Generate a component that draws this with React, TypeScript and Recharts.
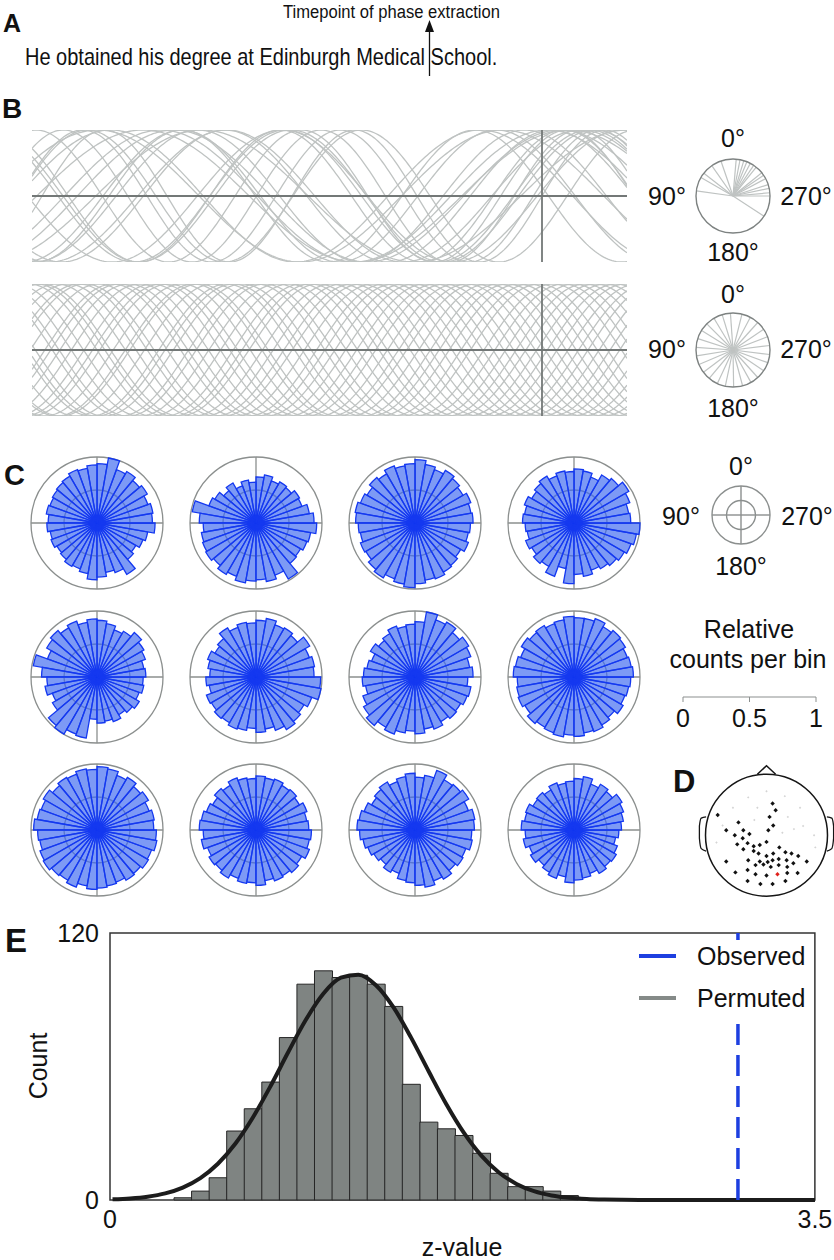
import {
  LineChart,
  Line,
  XAxis,
  YAxis,
  ReferenceLine,
  ReferenceDot,
  ReferenceArea,
  RadialBarChart,
  RadialBar,
  PolarGrid,
  PolarAngleAxis,
  PolarRadiusAxis,
  ComposedChart,
  Scatter,
  Bar,
  Legend,
  Label,
} from "recharts";

const FONT = '"Liberation Sans", Arial, Helvetica, sans-serif';
const WAVE_GREY = "#bfc3c2";
const AXIS_GREY = "#737877";
const RING_GREY = "#8b8f8e";

// ---- B: single trials, phase (deg, 0 = peak) at the extraction timepoint
const TIME_RANGE = [-0.6, 0.1];
const TIME_STEP = 0.0025;
const TOP_PHASES = [349, 343, 332, 321, 309, 298, 288, 275, 270, 60, 82, 52, 35, 237, 19, 355, 326, 304, 338, 282];
const TOP_FREQS = [2.6, 2.2, 3.0, 2.4, 3.3, 2.8, 2.0, 2.5, 3.4, 2.3, 2.9, 2.7, 2.1, 3.1, 2.6, 2.2, 3.2, 2.8, 2.0, 3.3];
const BOTTOM_PHASES = [4, 17, 31, 45, 58, 72, 86, 99, 113, 127, 140, 155, 168, 181, 195, 209, 222, 236, 250, 263, 277, 291, 304, 318, 332, 346];
const BOTTOM_FREQS = [3.1, 3.12, 3.08, 3.1, 3.13, 3.1, 3.07, 3.11, 3.1, 3.08, 3.1, 3.12, 3.1, 3.09, 3.1, 3.13, 3.1, 3.08, 3.11, 3.1, 3.1, 3.07, 3.1, 3.12, 3.1, 3.09];

// ---- C: relative counts per 10 deg phase bin, bins run counter-clockwise from 0 deg (top)
const PHASE_BINS = [0, 10, 20, 30, 40, 50, 60, 70, 80, 90, 100, 110, 120, 130, 140, 150, 160, 170,
  180, 190, 200, 210, 220, 230, 240, 250, 260, 270, 280, 290, 300, 310, 320, 330, 340, 350];
const ROSE_1 = [0.90, 0.88, 0.84, 0.86, 0.82, 0.80, 0.78, 0.76, 0.78, 0.74, 0.76, 0.72, 0.74, 0.70, 0.72, 0.76, 0.74, 0.78, 0.86, 0.82, 0.76, 0.80, 0.90, 0.72, 0.68, 0.74, 0.78, 0.88, 0.84, 0.86, 0.82, 0.88, 0.84, 0.90, 0.86, 1.00];
const ROSE_2 = [0.70, 0.62, 0.66, 0.60, 0.70, 0.64, 0.72, 0.76, 0.98, 0.86, 0.80, 0.84, 0.86, 0.88, 0.84, 0.90, 0.86, 0.92, 0.88, 0.86, 0.90, 0.84, 0.98, 0.80, 0.78, 0.82, 0.84, 0.92, 0.88, 0.82, 0.74, 0.76, 0.70, 0.72, 0.68, 0.74];
const ROSE_3 = [0.96, 0.90, 0.88, 0.92, 0.86, 0.90, 0.84, 0.88, 0.92, 0.90, 0.86, 0.84, 0.88, 0.86, 0.92, 0.96, 0.90, 0.94, 0.98, 0.92, 0.88, 0.90, 0.86, 0.84, 0.80, 0.86, 0.82, 0.84, 0.88, 0.86, 0.90, 0.84, 0.88, 0.92, 0.86, 0.90];
const ROSE_4 = [0.82, 0.78, 0.80, 0.76, 0.82, 0.78, 0.74, 0.80, 0.76, 0.78, 0.74, 0.72, 0.78, 0.74, 0.80, 0.76, 0.86, 0.70, 0.92, 0.78, 0.82, 0.76, 0.80, 0.84, 0.88, 0.92, 0.96, 1.00, 0.86, 0.84, 0.90, 0.96, 0.88, 0.84, 0.74, 0.80];
const ROSE_5 = [0.86, 0.88, 0.84, 0.90, 0.86, 0.92, 0.88, 0.80, 0.98, 0.84, 0.76, 0.80, 0.72, 0.78, 0.96, 1.00, 0.92, 0.94, 0.64, 0.70, 0.68, 0.72, 0.66, 0.70, 0.74, 0.68, 0.72, 0.70, 0.74, 0.72, 0.78, 0.82, 0.88, 0.80, 0.76, 0.82];
const ROSE_6 = [0.86, 0.82, 0.84, 0.80, 0.86, 0.76, 0.72, 0.78, 0.74, 0.70, 0.76, 0.72, 0.80, 0.78, 0.82, 0.80, 0.84, 0.82, 0.78, 0.84, 0.80, 0.86, 0.92, 0.88, 0.84, 0.90, 1.00, 0.98, 0.88, 0.90, 0.86, 0.94, 0.82, 0.86, 0.84, 0.90];
const ROSE_7 = [0.84, 0.80, 0.78, 0.82, 0.76, 0.72, 0.78, 0.70, 0.74, 0.78, 0.80, 0.76, 0.84, 0.90, 0.96, 0.88, 0.92, 0.86, 0.82, 0.86, 0.80, 0.84, 0.78, 0.82, 0.80, 0.84, 0.86, 0.80, 0.88, 0.84, 0.90, 0.94, 0.88, 0.96, 0.92, 1.00];
const ROSE_8 = [0.90, 0.92, 0.88, 0.86, 0.90, 0.88, 0.92, 0.86, 0.90, 0.92, 0.86, 0.88, 0.90, 0.86, 0.92, 0.88, 0.90, 0.92, 0.88, 0.90, 0.86, 0.88, 0.84, 0.80, 0.86, 0.82, 0.84, 0.86, 0.90, 0.88, 0.86, 0.90, 0.92, 0.88, 0.94, 0.90];
const ROSE_9 = [0.96, 0.92, 0.94, 0.90, 0.92, 0.88, 0.94, 0.90, 0.92, 0.96, 0.90, 0.88, 0.92, 0.94, 0.90, 0.88, 0.92, 0.86, 0.90, 0.88, 0.86, 0.84, 0.88, 0.86, 0.90, 0.88, 0.92, 0.90, 0.86, 0.88, 0.84, 0.90, 0.86, 0.92, 0.88, 0.94];
const ROSE_10 = [0.82, 0.78, 0.80, 0.84, 0.78, 0.82, 0.76, 0.80, 0.84, 0.86, 0.80, 0.84, 0.78, 0.82, 0.80, 0.84, 0.78, 0.82, 0.80, 0.84, 0.78, 0.82, 0.80, 0.84, 0.80, 0.86, 0.82, 0.84, 0.80, 0.78, 0.82, 0.76, 0.80, 0.78, 0.82, 0.80];
const ROSE_11 = [0.80, 0.86, 0.82, 0.78, 0.84, 0.80, 0.76, 0.82, 0.86, 0.88, 0.84, 0.80, 0.76, 0.72, 0.68, 0.74, 0.70, 0.78, 0.80, 0.84, 0.88, 0.82, 0.86, 0.80, 0.84, 0.82, 0.88, 0.86, 0.90, 0.92, 0.86, 0.94, 0.90, 0.88, 0.96, 0.84];
const ROSE_12 = [0.78, 0.74, 0.72, 0.76, 0.70, 0.74, 0.72, 0.78, 0.76, 0.80, 0.74, 0.78, 0.72, 0.76, 0.70, 0.74, 0.78, 0.72, 0.80, 0.76, 0.74, 0.70, 0.76, 0.72, 0.74, 0.70, 0.64, 0.68, 0.72, 0.76, 0.80, 0.84, 0.76, 0.80, 0.74, 0.82];
const ROSES = [ROSE_1, ROSE_2, ROSE_3, ROSE_4, ROSE_5, ROSE_6, ROSE_7, ROSE_8, ROSE_9, ROSE_10, ROSE_11, ROSE_12];
const SCALE_TICKS = [0, 0.5, 1];

// ---- D: electrode positions (head radius = 1, nose up)
const SIG_ELECTRODES = [
  { x: -0.46, y: 0.21 }, { x: 0.11, y: 0.16 }, { x: -0.66, y: 0.08 }, { x: -0.38, y: 0.08 }, { x: 0.03, y: 0.08 },
  { x: -0.52, y: 0.0 }, { x: -0.28, y: 0.02 }, { x: -0.39, y: -0.05 }, { x: -0.48, y: -0.15 }, { x: -0.31, y: -0.13 },
  { x: -0.21, y: -0.18 }, { x: -0.11, y: -0.16 }, { x: 0.0, y: -0.11 }, { x: -0.38, y: -0.23 }, { x: -0.21, y: -0.26 },
  { x: -0.13, y: -0.3 }, { x: 0.0, y: -0.34 }, { x: 0.11, y: -0.3 }, { x: 0.21, y: -0.2 }, { x: 0.31, y: -0.28 },
  { x: 0.41, y: -0.3 }, { x: 0.52, y: -0.34 }, { x: -0.3, y: -0.41 }, { x: -0.11, y: -0.43 }, { x: 0.02, y: -0.44 },
  { x: 0.1, y: -0.41 }, { x: 0.2, y: -0.39 }, { x: 0.33, y: -0.41 }, { x: 0.66, y: -0.43 }, { x: -0.66, y: -0.43 },
  { x: -0.18, y: -0.49 }, { x: -0.05, y: -0.48 }, { x: 0.07, y: -0.52 }, { x: 0.2, y: -0.49 }, { x: 0.34, y: -0.52 },
  { x: 0.44, y: -0.46 }, { x: -0.51, y: -0.61 }, { x: -0.31, y: -0.57 }, { x: -0.18, y: -0.64 }, { x: 0.0, y: -0.66 },
  { x: 0.34, y: -0.62 }, { x: 0.51, y: -0.62 }, { x: -0.31, y: -0.75 }, { x: -0.1, y: -0.8 }, { x: 0.1, y: -0.8 },
  { x: 0.31, y: -0.75 }, { x: 0.1, y: 0.52 }, { x: 0.15, y: 0.41 }, { x: 0.05, y: 0.3 }, { x: -0.8, y: 0.33 },
];
const PEAK_ELECTRODE = [{ x: 0.18, y: -0.64 }];
const FAINT_ELECTRODES = [
  { x: -0.3, y: 0.62 }, { x: 0.0, y: 0.72 }, { x: 0.3, y: 0.64 }, { x: -0.55, y: 0.45 }, { x: 0.55, y: 0.45 },
  { x: -0.15, y: 0.45 }, { x: 0.35, y: 0.3 }, { x: 0.6, y: 0.15 }, { x: 0.78, y: 0.0 }, { x: 0.8, y: -0.2 },
  { x: -0.82, y: -0.12 }, { x: -0.72, y: 0.16 }, { x: 0.45, y: 0.1 }, { x: 0.26, y: 0.04 }, { x: -0.2, y: 0.25 },
];
const NOSE = [{ x: -0.15, y: 1.0 }, { x: 0, y: 1.14 }, { x: 0.15, y: 1.0 }];
const LEFT_EAR = [{ x: -0.99, y: 0.3 }, { x: -1.07, y: 0.28 }, { x: -1.1, y: 0.15 }, { x: -1.1, y: -0.05 }, { x: -1.07, y: -0.22 }, { x: -0.99, y: -0.26 }];
const RIGHT_EAR = [{ x: 0.99, y: 0.3 }, { x: 1.07, y: 0.28 }, { x: 1.1, y: 0.15 }, { x: 1.1, y: -0.05 }, { x: 1.07, y: -0.22 }, { x: 0.99, y: -0.26 }];

// ---- E: permutation distribution of z-values
const BIN_START = -0.031;
const BIN_WIDTH = 0.0872;
const PERM_COUNTS = [0, 0, 0, 0, 1, 4, 10, 31, 41, 53, 73, 97, 103, 100, 101, 97, 87, 52, 35, 32, 29, 21, 12, 6, 6, 4, 2, 0, 0, 0, 0, 0, 0, 0, 0, 0, 0, 0, 0, 0, 0];
const FIT_MEAN = 1.209;
const FIT_SD = 0.352;
const FIT_PEAK = 101.5;
const OBSERVED_Z = 3.118;

function buildWaves(freqs: number[], phases: number[]) {
  const n = Math.round((TIME_RANGE[1] - TIME_RANGE[0]) / TIME_STEP);
  const rows: Record<string, number>[] = [];
  for (let i = 0; i <= n; i++) {
    const t = TIME_RANGE[0] + i * TIME_STEP;
    const row: Record<string, number> = { t };
    freqs.forEach((f, k) => {
      row["c" + k] = Math.cos(2 * Math.PI * f * t + (phases[k] * Math.PI) / 180);
    });
    rows.push(row);
  }
  return rows;
}

function WavePanel({ top, freqs, phases }: { top: number; freqs: number[]; phases: number[] }) {
  const rows = buildWaves(freqs, phases);
  return (
    <div style={{ position: "absolute", left: 32, top }}>
      <LineChart width={595} height={132} data={rows} margin={{ top: 0, right: 0, bottom: 0, left: 0 }}>
        <XAxis dataKey="t" type="number" domain={TIME_RANGE} hide />
        <YAxis type="number" domain={[-1, 1]} hide />
        {freqs.map((_, k) => (
          <Line key={k} dataKey={"c" + k} stroke={WAVE_GREY} strokeWidth={1.3} dot={false} isAnimationActive={false} />
        ))}
        <ReferenceLine y={0} stroke={AXIS_GREY} strokeWidth={1.8} />
        <ReferenceLine x={0} stroke={AXIS_GREY} strokeWidth={1.8} />
      </LineChart>
    </div>
  );
}

function PhaseDial({ cx, cy, phases }: { cx: number; cy: number; phases: number[] }) {
  return (
    <div style={{ position: "absolute", left: cx - 40, top: cy - 40 }}>
      <LineChart width={80} height={80} margin={{ top: 3, right: 3, bottom: 3, left: 3 }}>
        <XAxis dataKey="x" type="number" domain={[-1, 1]} hide />
        <YAxis dataKey="y" type="number" domain={[-1, 1]} hide />
        {phases.map((p, k) => {
          const a = (p * Math.PI) / 180;
          return (
            <Line
              key={k}
              data={[{ x: 0, y: 0 }, { x: -Math.sin(a), y: Math.cos(a) }]}
              dataKey="y"
              stroke={WAVE_GREY}
              strokeWidth={1.2}
              dot={false}
              isAnimationActive={false}
            />
          );
        })}
        <ReferenceDot x={0} y={0} r={37} fill="none" stroke="#7d8281" strokeWidth={1.4} />
      </LineChart>
    </div>
  );
}

function Rose({ values, cx, cy }: { values: number[]; cx: number; cy: number }) {
  const rows = values.map((v, i) => ({ bin: PHASE_BINS[i], v }));
  return (
    <div style={{ position: "absolute", left: cx - 70, top: cy - 70 }}>
      <RadialBarChart
        width={140}
        height={140}
        data={rows}
        layout="centric"
        cx={70}
        cy={70}
        innerRadius={0}
        outerRadius={66}
        startAngle={90}
        endAngle={450}
        barCategoryGap={0}
        barGap={0}
        margin={{ top: 0, right: 0, bottom: 0, left: 0 }}
      >
        <PolarGrid gridType="circle" polarAngles={[0, 90, 180, 270]} polarRadius={[33, 66]} stroke={RING_GREY} strokeWidth={1.3} />
        <PolarAngleAxis type="category" dataKey="bin" tick={false} tickLine={false} axisLine={false} />
        <PolarRadiusAxis type="number" domain={[0, 1]} tick={false} axisLine={false} />
        <RadialBar dataKey="v" fill="#3f6af0" fillOpacity={0.68} stroke="#1438f0" strokeWidth={1.3} isAnimationActive={false} />
      </RadialBarChart>
    </div>
  );
}

function LegendDial() {
  return (
    <div style={{ position: "absolute", left: 741 - 35, top: 515 - 35 }}>
      <RadialBarChart width={70} height={70} data={[{ bin: 0, v: 0 }]} layout="centric" cx={35} cy={35} innerRadius={0} outerRadius={29} startAngle={90} endAngle={450} margin={{ top: 0, right: 0, bottom: 0, left: 0 }}>
        <PolarGrid gridType="circle" polarAngles={[0, 90, 180, 270]} polarRadius={[14.5, 29]} stroke={RING_GREY} strokeWidth={1.4} />
        <PolarAngleAxis type="category" dataKey="bin" tick={false} tickLine={false} axisLine={false} />
        <PolarRadiusAxis type="number" domain={[0, 1]} tick={false} axisLine={false} />
      </RadialBarChart>
    </div>
  );
}

function ScaleBar() {
  return (
    <div style={{ position: "absolute", left: 663, top: 690 }}>
      <LineChart width={173} height={45} margin={{ top: 0, right: 20, bottom: 0, left: 20 }}>
        <XAxis
          dataKey="x"
          type="number"
          domain={[0, 1]}
          ticks={SCALE_TICKS}
          height={38}
          stroke={RING_GREY}
          tickSize={5}
          tick={(p: any) => (
            <text x={p.x} y={37} textAnchor="middle" fontSize={25} fontFamily={FONT} fill="#111">
              {p.payload.value}
            </text>
          )}
        />
        <YAxis type="number" domain={[0, 1]} hide />
        <Line data={[{ x: 0, y: 0 }, { x: 1, y: 0 }]} dataKey="y" stroke="none" dot={false} isAnimationActive={false} />
      </LineChart>
    </div>
  );
}

const diamond = (fill: string, s: number) => (p: any) => (
  <polygon points={`${p.cx},${p.cy - s} ${p.cx + s},${p.cy} ${p.cx},${p.cy + s} ${p.cx - s},${p.cy}`} fill={fill} />
);

function Head() {
  const R = 61;
  const w = 141;
  const h = 144;
  const top = 1.2;
  return (
    <div style={{ position: "absolute", left: 766 - w / 2, top: 835 - top * R }}>
      <ComposedChart width={w} height={h} margin={{ top: 0, right: 0, bottom: 0, left: 0 }}>
        <XAxis dataKey="x" type="number" domain={[-w / 2 / R, w / 2 / R]} hide />
        <YAxis dataKey="y" type="number" domain={[top - h / R, top]} hide />
        <ReferenceDot x={0} y={0} r={R} fill="none" stroke="#151515" strokeWidth={1.5} />
        <Line data={NOSE} dataKey="y" stroke="#151515" strokeWidth={1.5} dot={false} isAnimationActive={false} />
        <Line data={LEFT_EAR} dataKey="y" type="monotone" stroke="#151515" strokeWidth={1.3} dot={false} isAnimationActive={false} />
        <Line data={RIGHT_EAR} dataKey="y" type="monotone" stroke="#151515" strokeWidth={1.3} dot={false} isAnimationActive={false} />
        <Scatter data={FAINT_ELECTRODES} shape={diamond("#d4d4d4", 1.2)} isAnimationActive={false} />
        <Scatter data={SIG_ELECTRODES} shape={diamond("#111", 2.2)} isAnimationActive={false} />
        <Scatter data={PEAK_ELECTRODE} shape={diamond("#e0201b", 2.2)} isAnimationActive={false} />
      </ComposedChart>
    </div>
  );
}

function PermutationHistogram() {
  const rows = PERM_COUNTS.map((c, k) => {
    const z = BIN_START + (k + 0.5) * BIN_WIDTH;
    return {
      z,
      count: c > 0 ? c : null,
      fit: FIT_PEAK * Math.exp(-((z - FIT_MEAN) ** 2) / (2 * FIT_SD * FIT_SD)),
    };
  });
  return (
    <div style={{ position: "absolute", left: 0, top: 900 }}>
      <ComposedChart width={834} height={360} data={rows} margin={{ top: 33, right: 19, bottom: 0, left: 0 }} barCategoryGap={0} barGap={0}>
        <XAxis
          dataKey="z"
          type="number"
          domain={[0, 3.5]}
          ticks={[0, 3.5]}
          height={60}
          axisLine={false}
          tickLine={false}
          tick={(p: any) => (
            <text x={p.x} y={328} textAnchor="middle" fontSize={25} fontFamily={FONT} fill="#111">
              {p.payload.value}
            </text>
          )}
        >
          <Label
            content={() => (
              <text x={462} y={356} textAnchor="middle" fontSize={25} fontFamily={FONT} fill="#111">
                z-value
              </text>
            )}
          />
        </XAxis>
        <YAxis
          type="number"
          domain={[0, 120]}
          ticks={[0, 120]}
          width={110}
          axisLine={false}
          tickLine={false}
          tick={(p: any) => (
            <text x={99} y={p.y + 9} textAnchor="end" fontSize={25} fontFamily={FONT} fill="#111">
              {p.payload.value}
            </text>
          )}
        >
          <Label
            content={() => (
              <text x={47} y={166} transform="rotate(-90, 47, 166)" textAnchor="middle" fontSize={25} fontFamily={FONT} fill="#111">
                Count
              </text>
            )}
          />
        </YAxis>
        <Bar dataKey="count" fill="#7f8482" stroke="#262626" strokeWidth={1} isAnimationActive={false} />
        <Line dataKey="fit" type="monotone" stroke="#1c1c1c" strokeWidth={4} dot={false} isAnimationActive={false} />
        <ReferenceLine x={OBSERVED_Z} stroke="#1d3fe0" strokeWidth={3.5} strokeDasharray="21 10" />
        <ReferenceArea x1={0} x2={3.5} y1={0} y2={120} fill="none" stroke="#333" strokeWidth={1.5} ifOverflow="visible" />
        <Legend
          layout="vertical"
          align="center"
          verticalAlign="middle"
          wrapperStyle={{ left: 630, top: 40, width: 182, height: 77 }}
          content={() => (
            <div style={{ width: 182, height: 77, background: "#fff", position: "relative", fontFamily: FONT, fontSize: 25, color: "#111" }}>
              <div style={{ position: "absolute", left: 9, top: 14, width: 37, height: 4, background: "#1d3fe0" }} />
              <div style={{ position: "absolute", left: 67, top: 2, lineHeight: "28px" }}>Observed</div>
              <div style={{ position: "absolute", left: 9, top: 56, width: 37, height: 4, background: "#858a88" }} />
              <div style={{ position: "absolute", left: 67, top: 44, lineHeight: "28px" }}>Permuted</div>
            </div>
          )}
        />
      </ComposedChart>
    </div>
  );
}

function T({ x, y, size, children, anchor = "start", weight = 400, sy = 1 }: any) {
  return (
    <text
      transform={`translate(${x},${y}) scale(1,${sy})`}
      textAnchor={anchor}
      fontSize={size}
      fontWeight={weight}
      fontFamily={FONT}
      fill="#111"
    >
      {children}
    </text>
  );
}

const ROSE_COLS = [97, 256, 415, 574];
const ROSE_ROWS = [523, 677, 830];

export default function App() {
  return (
    <div style={{ position: "absolute", left: 0, top: 0, width: 834, height: 1260, background: "#fff", overflow: "hidden", fontFamily: FONT }}>
      <WavePanel top={130} freqs={TOP_FREQS} phases={TOP_PHASES} />
      <WavePanel top={284} freqs={BOTTOM_FREQS} phases={BOTTOM_PHASES} />
      <PhaseDial cx={733} cy={196} phases={TOP_PHASES} />
      <PhaseDial cx={733} cy={350} phases={BOTTOM_PHASES} />
      {ROSES.map((vals, i) => (
        <Rose key={i} values={vals} cx={ROSE_COLS[i % 4]} cy={ROSE_ROWS[Math.floor(i / 4)]} />
      ))}
      <LegendDial />
      <ScaleBar />
      <Head />
      <PermutationHistogram />
      <svg width={834} height={1260} style={{ position: "absolute", left: 0, top: 0, pointerEvents: "none" }}>
        <T x={3} y={32} size={25} weight={700}>A</T>
        <T x={283} y={18} size={16.6} sy={1.12}>Timepoint of phase extraction</T>
        <T x={25} y={65} size={20} sy={1.2}>He obtained his degree at Edinburgh Medical School.</T>
        <line x1={429.5} y1={76} x2={429.5} y2={30} stroke="#111" strokeWidth={1.3} />
        <polygon points="425,32 434,32 429.5,20" fill="#111" />
        <T x={2} y={118} size={28} weight={700}>B</T>
        <T x={733} y={147} size={25} anchor="middle">0°</T>
        <T x={667} y={205} size={25} anchor="middle">90°</T>
        <T x={806} y={205} size={25} anchor="middle">270°</T>
        <T x={733} y={261} size={25} anchor="middle">180°</T>
        <T x={733} y={303} size={25} anchor="middle">0°</T>
        <T x={667} y={358} size={25} anchor="middle">90°</T>
        <T x={806} y={358} size={25} anchor="middle">270°</T>
        <T x={733} y={417} size={25} anchor="middle">180°</T>
        <T x={4} y={485} size={29} weight={700}>C</T>
        <T x={741} y={475} size={25} anchor="middle">0°</T>
        <T x={681} y={525} size={25} anchor="middle">90°</T>
        <T x={807} y={525} size={25} anchor="middle">270°</T>
        <T x={741} y={575} size={25} anchor="middle">180°</T>
        <T x={749} y={638} size={25} anchor="middle">Relative</T>
        <T x={748} y={668} size={25} anchor="middle">counts per bin</T>
        <T x={673} y={792} size={31} weight={700}>D</T>
        <T x={5} y={952} size={33} weight={700}>E</T>
      </svg>
    </div>
  );
}
